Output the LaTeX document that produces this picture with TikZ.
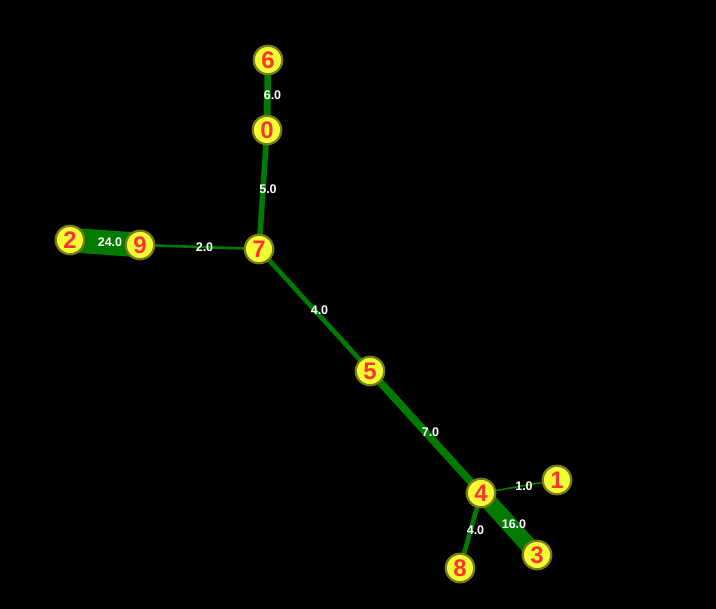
\documentclass[tikz,border=0pt]{standalone}
\usepackage{fontspec}
\setmainfont{Liberation Sans}
\usepackage{tikz}
\usetikzlibrary{positioning}
\definecolor{nodeYellow}{HTML}{F2FF33}
\definecolor{nodeRim}{HTML}{7A7A1E}
\definecolor{labelRed}{HTML}{FF3333}
\definecolor{edgeGreen}{HTML}{007A00}
\pgfdeclarelayer{canvas}
\pgfdeclarelayer{edges}
\pgfsetlayers{canvas,edges,main}
\tikzset{graph-node/.style={draw=nodeRim, fill=nodeYellow, circle, line width=2.2pt,
    inner sep=0, minimum size=28.5pt, text=labelRed,
    font=\fontsize{24}{24}\selectfont\bfseries}}
\tikzset{graph-edge/.style={draw=edgeGreen}}
\tikzset{weight-label/.style={text=white, inner sep=1pt, xshift=5pt,
    font=\fontsize{12.5}{12.5}\selectfont\bfseries}}

\begin{document}
\begin{tikzpicture}[x=1pt, y=-1pt]
    \begin{pgfonlayer}{canvas}
        \fill[black] (0,0) rectangle (716,609);
    \end{pgfonlayer}
    \useasboundingbox (0,0) rectangle (716,609);

    \node[graph-node] (node6) at (268,60) {6};
    \node[graph-node] (node0) at (267,130) {0};
    \node[graph-node] (node7) at (259,249) {7};
    \node[graph-node] (node9) at (140,245) {9};
    \node[graph-node] (node2) at (70,240) {2};
    \node[graph-node] (node5) at (370,371) {5};
    \node[graph-node] (node4) at (481,493) {4};
    \node[graph-node] (node1) at (557,480) {1};
    \node[graph-node] (node3) at (537,555) {3};
    \node[graph-node] (node8) at (460,568) {8};

    \begin{pgfonlayer}{edges}
        \foreach \a/\b/\w in {6/0/6.0, 0/7/5.0, 2/9/24.0, 9/7/2.0, 7/5/4.0,
                              5/4/7.0, 4/1/1.0, 4/3/16.0, 4/8/4.0} {
            \draw[graph-edge, line width=\w pt+0.6pt] (node\a.center) -- (node\b.center)
                node[weight-label, midway] {\w};
        }
    \end{pgfonlayer}
\end{tikzpicture}
\end{document}
